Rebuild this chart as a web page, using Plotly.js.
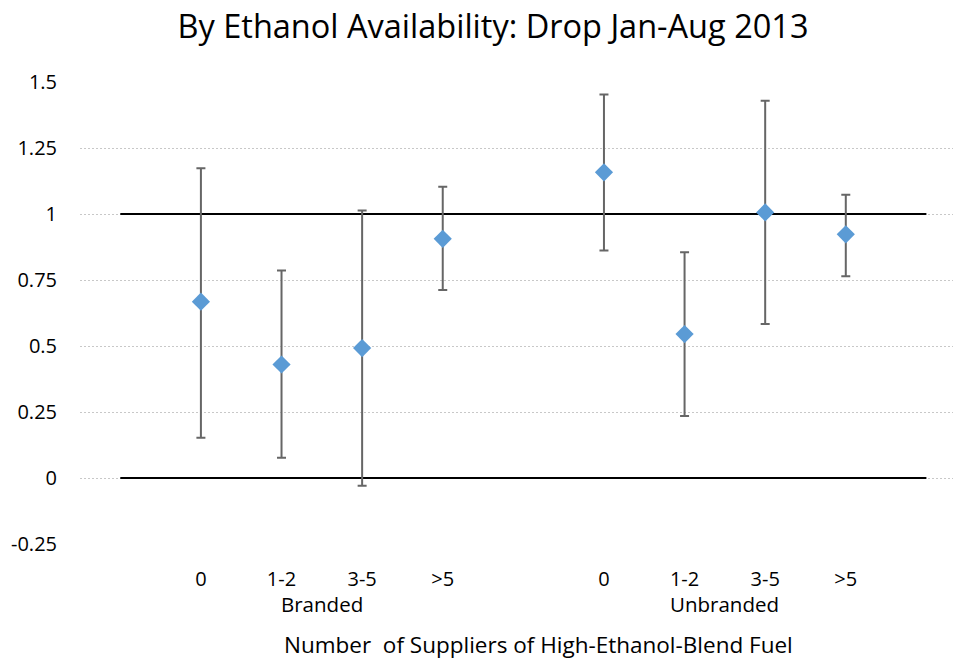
<!DOCTYPE html>
<html>
<head>
<meta charset="utf-8">
<script src="https://cdn.plot.ly/plotly-3.0.1.min.js"></script>
<style>html,body{margin:0;padding:0;background:#fff;}#chart{width:953px;height:660px;}</style>
</head>
<body>
<div id="chart"></div>
<script>
// Data
const groups = ["Branded", "Unbranded"];
const categories = ["0", "1-2", "3-5", ">5"];
const brandedValue = [0.668, 0.430, 0.492, 0.906];
const brandedUpper = [1.173, 0.786, 1.013, 1.103];
const brandedLower = [0.152, 0.077, -0.029, 0.712];
const unbrandedValue = [1.158, 0.545, 1.006, 0.923];
const unbrandedUpper = [1.453, 0.855, 1.429, 1.073];
const unbrandedLower = [0.862, 0.235, 0.583, 0.764];
const referenceLevels = [0, 1];
const yTickVals = [-0.25, 0, 0.25, 0.5, 0.75, 1, 1.25, 1.5];
const yTickText = ["-0.25", "0", "0.25", "0.5", "0.75", "1", "1.25", "1.5"];

// slot positions: group g, category i
const slotsPerGroup = categories.length + 1;
const xPos = [], xText = [];
const values = [], upper = [], lower = [];
[[brandedValue, brandedUpper, brandedLower], [unbrandedValue, unbrandedUpper, unbrandedLower]].forEach((s, g) => {
  categories.forEach((c, i) => {
    xPos.push(g * slotsPerGroup + i + 1);
    xText.push(c);
    values.push(s[0][i]); upper.push(s[1][i]); lower.push(s[2][i]);
  });
});
const errPlus = values.map((v, i) => upper[i] - v);
const errMinus = values.map((v, i) => v - lower[i]);
const xMin = 0, xMax = groups.length * slotsPerGroup;

const FONT = "'Open Sans', Lato, sans-serif";

const traces = referenceLevels.map(lv => ({
  type: "scatter", mode: "lines",
  x: [xMin, xMax], y: [lv, lv],
  line: {color: "#000000", width: 2},
  hoverinfo: "skip", showlegend: false
}));
traces.push({
  type: "scatter", mode: "markers",
  x: xPos, y: values,
  marker: {symbol: "diamond", size: 14, color: "#5B9BD5"},
  error_y: {type: "data", symmetric: false, array: errPlus, arrayminus: errMinus,
            color: "#666666", thickness: 2, width: 4.5},
  cliponaxis: false,
  showlegend: false
});

const plotH = 463;
const annotations = groups.map((gname, g) => ({
  x: g * slotsPerGroup + (categories.length + 1) / 2, xref: "x",
  y: -(604 - 544) / plotH, yref: "paper", yanchor: "middle",
  text: gname, showarrow: false,
  font: {family: FONT, size: 20.5, color: "#000"}
}));
annotations.push({
  x: (538 - 80) / 873, xref: "paper", y: -(645 - 544) / plotH, yref: "paper", yanchor: "middle",
  text: "Number  of Suppliers of High-Ethanol-Blend Fuel", showarrow: false,
  font: {family: FONT, size: 22.5, color: "#000"}
});

const layout = {
  width: 953, height: 660,
  margin: {l: 80, r: 0, t: 82, b: 116},
  paper_bgcolor: "#ffffff", plot_bgcolor: "#ffffff",
  title: {text: "By Ethanol Availability: Drop Jan-Aug 2013", x: 493 / 953, xanchor: "center", y: 0.96, yanchor: "middle",
          font: {family: FONT, size: 32.5, color: "#000"}},
  font: {family: FONT, color: "#000"},
  xaxis: {
    range: [-0.5, 10.33], tickvals: xPos, ticktext: xText,
    showgrid: false, zeroline: false, showline: false, ticks: "",
    tickfont: {family: FONT, size: 20, color: "#000"}, ticklabelstandoff: 21
  },
  yaxis: {
    range: [-0.25, 1.5], tickvals: yTickVals, ticktext: yTickText,
    showgrid: true, gridcolor: "#c8c8c8", griddash: "2px,2px", gridwidth: 1,
    zeroline: false, showline: false, ticks: "",
    tickfont: {family: FONT, size: 20, color: "#000"}, ticklabelstandoff: 22
  },
  annotations: annotations,
  showlegend: false
};

Plotly.newPlot("chart", traces, layout, {displayModeBar: false, staticPlot: true});
</script>
</body>
</html>
